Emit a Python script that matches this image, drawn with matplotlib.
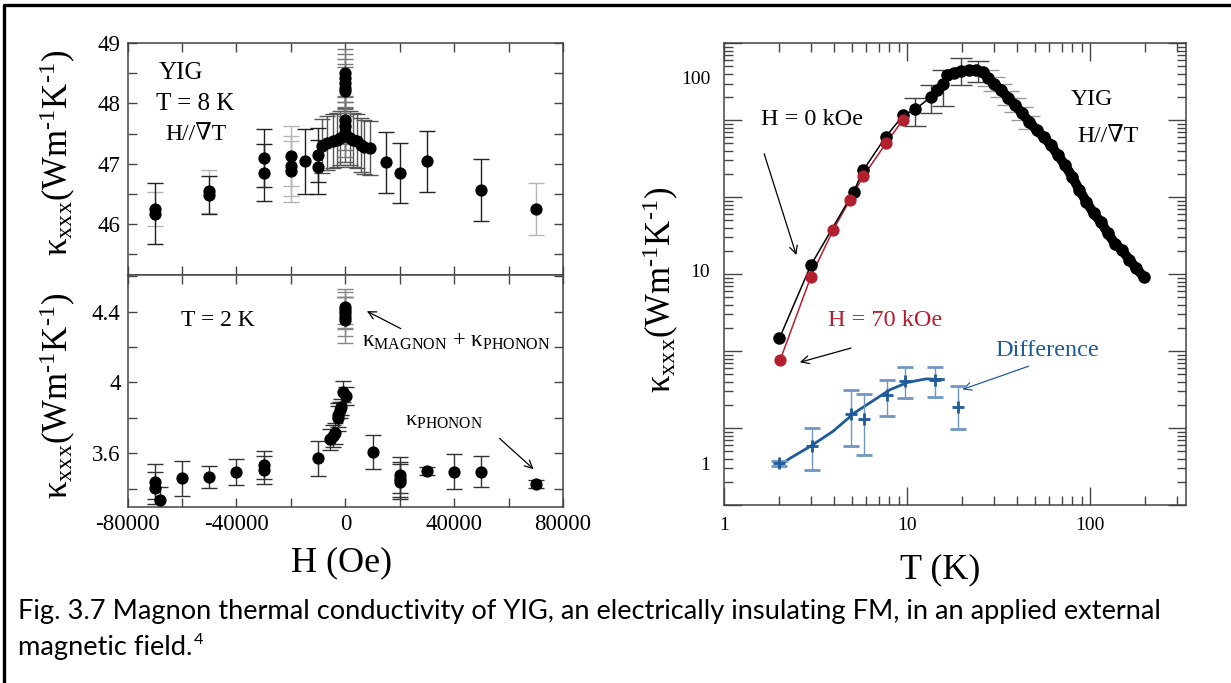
import numpy as np
import matplotlib
matplotlib.use('Agg')
from matplotlib import pyplot as plt
from matplotlib.lines import Line2D
from matplotlib.ticker import FixedLocator, FixedFormatter, MultipleLocator, LogLocator, NullFormatter, NullLocator

plt.rcParams['font.family'] = ['Liberation Serif', 'DejaVu Serif']
plt.rcParams['mathtext.fontset'] = 'custom'
plt.rcParams['mathtext.rm'] = 'Liberation Serif'
plt.rcParams['mathtext.it'] = 'Liberation Serif:italic'
plt.rcParams['mathtext.bf'] = 'Liberation Serif:bold'
plt.rcParams['axes.unicode_minus'] = False

# ---------------- data: T = 8 K (top left) ----------------
h8_dark = [-70000, -50000, -30000, -30000, -15000, -10000, -10000, 15000, 20000, 30000, 50000]
k8_dark = [46.17, 46.48, 47.09, 46.85, 47.04, 47.15, 46.95, 47.02, 46.84, 47.04, 46.56]
e8_dark = [0.51, 0.31, 0.48, 0.47, 0.54, 0.45, 0.45, 0.50, 0.50, 0.51, 0.51]
h8_light = [-70000, -50000, -20000, -20000, -20000, 70000]
k8_light = [46.25, 46.54, 47.13, 46.96, 46.87, 46.25]
e8_light = [0.28, 0.36, 0.50, 0.50, 0.50, 0.43]
h8_mid = [-8600, -6600, -4550, -3200, -1800, 0, 1560, 2900, 4300, 5600, 7000, 9000]
k8_mid = [47.30, 47.34, 47.37, 47.40, 47.42, 47.48, 47.42, 47.40, 47.38, 47.31, 47.27, 47.26]
e8_mid = [0.45, 0.45, 0.45, 0.45, 0.45, 0.45, 0.45, 0.45, 0.45, 0.45, 0.45, 0.45]
h8_peak = [0, 0, 0, 0, 0, 0, 0, 0]
k8_peak = [47.51, 47.62, 47.73, 48.20, 48.25, 48.34, 48.42, 48.50]
e8_peak = [0.40, 0.40, 0.40, 0.40, 0.40, 0.40, 0.40, 0.40]

# ---------------- data: T = 2 K (bottom left) ----------------
h2 = [-70000, -70000, -68000, -60000, -50000, -40000, -30000, -30000, -10000,
      -5500, -4550, -3900, -2800, -2800, -1800, -1500, -900, 200,
      10000, 20000, 20000, 20000, 30000, 40000, 50000, 70000]
k2 = [3.440, 3.402, 3.336, 3.459, 3.468, 3.496, 3.534, 3.506, 3.572,
      3.679, 3.698, 3.713, 3.798, 3.816, 3.845, 3.864, 3.948, 3.924,
      3.609, 3.478, 3.453, 3.440, 3.500, 3.496, 3.495, 3.427]
e2 = [0.10, 0.09, 0.075, 0.10, 0.063, 0.073, 0.08, 0.08, 0.10,
      0.06, 0.06, 0.06, 0.07, 0.07, 0.045, 0.045, 0.06, 0.05,
      0.095, 0.10, 0.10, 0.10, 0.025, 0.10, 0.087, 0.025]
h2_peak = [0, 0, 0, 0, 0]
k2_peak = [4.353, 4.372, 4.391, 4.409, 4.428]
e2_peak = [0.13, 0.11, 0.09, 0.10, 0.10]

h_ticks = [-80000, -60000, -40000, -20000, 0, 20000, 40000, 60000, 80000]
h_labels = ['-80000', '', '-40000', '', '0', '', '40000', '', '80000']

# ---------------- data: kappa vs T (right) ----------------
t_h0 = [2.01, 2.98, 5.11, 5.77, 7.65, 9.53, 11.07, 13.5, 14.5, 15.8, 16.6, 18.1, 19.8,
        21.7, 23.7, 26.0, 27.8, 29.7, 32.5, 35.6, 38.9, 42.6, 46.6, 51.0, 55.8, 61.0,
        66.7, 73.0, 79.9, 87.4, 95.6, 104.6, 114.4, 125.2, 137.0, 149.8, 163.9, 179.3, 196.2]
k_h0 = [4.44, 10.6, 25.5, 33.0, 49.1, 63.6, 68.1, 79.0, 85.7, 92.7, 102.4, 105.3, 107.4,
        108.7, 108.7, 106.6, 99.6, 92.7, 85.7, 78.5, 71.7, 64.9, 58.7, 53.2, 49.1, 44.5,
        39.5, 35.0, 30.5, 26.0, 22.6, 19.7, 17.8, 15.5, 13.7, 12.7, 11.3, 10.2, 9.24]
t_h0_err = [11.07, 13.5, 15.8, 19.8, 24.5]
k_h0_err = [68.1, 79.0, 92.7, 107.4, 107.5]
lo_h0_err = [55.7, 64.9, 70.7, 90.8, 95.0]
hi_h0_err = [78.5, 90.8, 108.7, 126.6, 121.0]
t_h0_gray = [27.8, 29.7, 32.5, 35.6, 38.9, 42.6, 46.6]
k_h0_gray = [99.6, 92.7, 85.7, 78.5, 71.7, 64.9, 58.7]
e_h0_gray = [9.0, 8.0, 7.0, 6.5, 6.0, 5.0, 4.5]

t_h70 = [2.03, 2.98, 3.94, 4.88, 5.77, 7.7, 9.45]
k_h70 = [3.43, 9.24, 16.1, 23.2, 30.7, 45.7, 59.8]

t_diff = [2.01, 3.01, 4.94, 5.83, 7.74, 9.69, 14.2, 19.0]
k_diff = [1.00, 1.23, 1.79, 1.70, 2.26, 2.65, 2.68, 1.96]
lo_diff = [0.97, 0.92, 1.23, 1.10, 1.76, 2.17, 2.19, 1.50]
hi_diff = [1.03, 1.52, 2.38, 2.28, 2.70, 3.14, 3.16, 2.52]
t_fit = [2.01, 2.30, 2.96, 3.94, 5.16, 6.45, 8.07, 10.1, 12.7, 15.8]
k_fit = [0.97, 1.06, 1.22, 1.46, 1.82, 2.09, 2.40, 2.62, 2.73, 2.71]

caption1 = 'Fig. 3.7 Magnon thermal conductivity of YIG, an electrically insulating FM, in an applied external'
caption2 = 'magnetic field.'

W, H = 1231, 683
fig = plt.figure(figsize=(W / 100, H / 100), dpi=100)


def box(x0, y0, x1, y1):
    # pixel box (top-left origin) -> figure fraction
    return [x0 / W, 1 - y1 / H, (x1 - x0) / W, (y1 - y0) / H]


SP = '#444444'
RED = '#b31f2e'
BLUE = '#1f5b98'
kappa_lab = 'κ$_{\\mathrm{xxx}}$(Wm$^{\\mathrm{\u20101}}$K$^{\\mathrm{\u20101}}$)'


def style_left(ax):
    for s in ax.spines.values():
        s.set_color(SP)
        s.set_linewidth(1.1)
    ax.tick_params(which='both', direction='in', top=True, right=True,
                   length=6.5, width=1.0, color=SP, labelsize=16.5, pad=5)
    ax.xaxis.set_major_locator(FixedLocator(h_ticks))
    ax.xaxis.set_major_formatter(FixedFormatter(h_labels))


def eb(ax, x, y, e, ecol, cap=6):
    ax.errorbar(x, y, yerr=e, fmt='o', color='black', ms=7.8, ecolor=ecol,
                elinewidth=1.0, capsize=cap, capthick=1.0, zorder=3)


# ---------- top left ----------
ax1 = fig.add_axes(box(127.6, 43.3, 563.1, 275))
style_left(ax1)
eb(ax1, h8_light, k8_light, e8_light, '#b5b5b5')
eb(ax1, h8_mid, k8_mid, e8_mid, '#555555')
eb(ax1, h8_dark, k8_dark, e8_dark, '#222222')
eb(ax1, h8_peak, k8_peak, e8_peak, '#777777')
ax1.set_xlim(-80000, 80000)
ax1.set_ylim(45.15, 49)
ax1.yaxis.set_major_locator(MultipleLocator(1))
ax1.yaxis.set_minor_locator(MultipleLocator(0.5))
ax1.tick_params(labelbottom=False)
ax1.text(-60400, 48.51, 'YIG', fontsize=18, ha='center', va='center')
ax1.text(-55300, 47.99, 'T = 8 K', fontsize=18, ha='center', va='center')
ax1.text(-54900, 47.49, 'H//∇T', fontsize=17, ha='center', va='center')

# ---------- bottom left ----------
ax2 = fig.add_axes(box(127.6, 275, 563.1, 507.3))
style_left(ax2)
eb(ax2, h2, k2, e2, '#333333')
eb(ax2, h2_peak, k2_peak, e2_peak, '#888888')
ax2.set_xlim(-80000, 80000)
ax2.set_ylim(3.295, 4.607)
ax2.yaxis.set_major_locator(FixedLocator([3.6, 4.0, 4.4]))
ax2.yaxis.set_major_formatter(FixedFormatter(['3.6', '4', '4.4']))
ax2.yaxis.set_minor_locator(MultipleLocator(0.2))
ax2.text(-46800, 4.35, 'T = 2 K', fontsize=17, ha='center', va='center')
ax2.annotate('', xy=(6980, 4.41), xytext=(21270, 4.297),
             arrowprops=dict(arrowstyle='->', color='black', lw=0.9, mutation_scale=14))
ax2.text(40660, 4.234, r'κ$_{\mathrm{MAGNON}}$ + κ$_{\mathrm{PHONON}}$', fontsize=16.5,
         ha='center', va='center')
ax2.text(36230, 3.788, r'κ$_{\mathrm{PHONON}}$', fontsize=16, ha='center', va='center')
ax2.annotate('', xy=(69920, 3.50), xytext=(55920, 3.694),
             arrowprops=dict(arrowstyle='->', color='black', lw=0.9, mutation_scale=14))

fig.text(58 / W, 1 - 153 / H, kappa_lab, rotation=90, fontsize=25, ha='center', va='center')
fig.text(57.5 / W, 1 - 396 / H, kappa_lab, rotation=90, fontsize=25, ha='center', va='center')
fig.text(342 / W, 1 - 563 / H, 'H (Oe)', fontsize=26, ha='center', va='center')

# ---------- right panel ----------
pos3 = box(724, 43.3, 1186.4, 505)
ax3 = fig.add_axes(pos3)
ax3.set_xscale('log')
ax3.set_yscale('log')
for s in ax3.spines.values():
    s.set_color(SP)
    s.set_linewidth(1.1)

ax3.plot(t_h70, k_h70, '-', color=RED, lw=1.1, zorder=2)
ax3.plot(t_h70, k_h70, 'o', color=RED, ms=7.8, zorder=4)
ax3.errorbar(t_h0_gray, k_h0_gray, yerr=e_h0_gray, fmt='none', ecolor='#9a9a9a',
             elinewidth=1.0, capsize=8, capthick=1.0, zorder=2)
ax3.plot(t_h0, k_h0, '-', color='black', lw=1.1, zorder=2)
ax3.plot(t_h0[10:], k_h0[10:], '-', color='black', lw=7, solid_capstyle='round', zorder=3)
ax3.plot(t_h0, k_h0, 'o', color='black', ms=8, zorder=3)
ax3.errorbar(t_h0_err, k_h0_err,
             yerr=[np.array(k_h0_err) - np.array(lo_h0_err), np.array(hi_h0_err) - np.array(k_h0_err)],
             fmt='none', ecolor='#444444', elinewidth=1.0, capsize=8, capthick=1.0, zorder=2)

ax3.plot(t_fit, k_fit, '-', color=BLUE, lw=2.0, zorder=3)
ax3.errorbar(t_diff, k_diff,
             yerr=[np.array(k_diff) - np.array(lo_diff), np.array(hi_diff) - np.array(k_diff)],
             fmt='+', color=BLUE, ms=9, mew=2, ecolor='#6f96c2', elinewidth=1.0,
             capsize=6, capthick=1.0, zorder=4)
ax3.set_xlim(1, 336)
ax3.set_ylim(0.606, 150)

ax3.xaxis.set_major_locator(FixedLocator([1, 10, 100]))
ax3.xaxis.set_major_formatter(FixedFormatter(['1', '10', '100']))
ax3.xaxis.set_minor_locator(LogLocator(base=10, subs=np.arange(2, 10), numticks=20))
ax3.xaxis.set_minor_formatter(NullFormatter())
ax3.tick_params(axis='x', which='major', direction='in', top=True, length=13, width=1.0,
                color=SP, labelsize=14, pad=9)
ax3.tick_params(axis='x', which='minor', direction='in', top=True, length=6.5, width=1.0, color=SP)
ax3.yaxis.set_major_locator(FixedLocator([1, 10, 100]))
ax3.yaxis.set_major_formatter(FixedFormatter(['1', '10', '100']))
ax3.yaxis.set_minor_locator(NullLocator())
ax3.tick_params(axis='y', which='both', length=0, labelsize=14, pad=10)

# tick marks on the vertical sides follow their own log scale
ax4 = fig.add_axes(pos3)
ax4.patch.set_visible(False)
for s in ax4.spines.values():
    s.set_visible(False)
ax4.set_yscale('log')
ax4.set_ylim(1, 1e6)
ax4.set_xticks([])
ax4.yaxis.set_minor_locator(LogLocator(base=10, subs=np.arange(2, 10), numticks=20))
ax4.yaxis.set_minor_formatter(NullFormatter())
ax4.tick_params(axis='y', which='major', direction='in', left=True, right=True, labelleft=False,
                length=13, width=1.0, color=SP)
ax4.tick_params(axis='y', which='minor', direction='in', left=True, right=True, labelleft=False,
                length=6.5, width=1.0, color=SP)

ax3.text(3.03, 60.4, 'H = 0 kOe', fontsize=17.5, ha='center', va='center')
ax3.annotate('', xy=(2.51, 11.6), xytext=(1.64, 41.4),
             arrowprops=dict(arrowstyle='->', color='black', lw=0.9, mutation_scale=14))
ax3.text(7.63, 5.48, 'H = 70 kOe', fontsize=17.5, ha='center', va='center', color=RED)
ax3.annotate('', xy=(2.51, 3.30), xytext=(5.11, 3.98),
             arrowprops=dict(arrowstyle='->', color='black', lw=0.9, mutation_scale=14))
ax3.text(58.2, 3.83, 'Difference', fontsize=17.5, ha='center', va='center', color=BLUE)
ax3.annotate('', xy=(19.4, 2.38), xytext=(47.6, 3.21),
             arrowprops=dict(arrowstyle='->', color=BLUE, lw=0.9, mutation_scale=14))
ax3.text(102.6, 76.8, 'YIG', fontsize=17, ha='center', va='center')
ax3.text(125.4, 49.1, 'H//∇T', fontsize=17, ha='center', va='center')

fig.text(661 / W, 1 - 290 / H, kappa_lab, rotation=90, fontsize=25, ha='center', va='center')
fig.text(940 / W, 1 - 570 / H, 'T (K)', fontsize=26, ha='center', va='center')

# ---------- caption ----------
c1 = fig.text(18 / W, 1 - 612 / H, caption1, fontfamily='Lato', fontsize=15, ha='left', va='center')
fig.canvas.draw()
fs = 15 * 1145 / c1.get_window_extent().width
c1.set_fontsize(fs)
c2 = fig.text(18 / W, 1 - 647 / H, caption2, fontfamily='Lato', fontsize=fs, ha='left', va='center')
fig.canvas.draw()
bb = c2.get_window_extent()
fig.text(bb.x1 / W + 1 / W, bb.y1 / H + 1 / H, '4', fontfamily='Lato', fontsize=fs * 0.6,
         ha='left', va='top')

# frame: left and top edges only
fig.add_artist(Line2D([4.3 / W, 4.3 / W, 1.0], [0.0, 1 - 5 / H, 1 - 5 / H],
                      transform=fig.transFigure, color='black', lw=2.4))

fig.savefig('out.png', dpi=100)
